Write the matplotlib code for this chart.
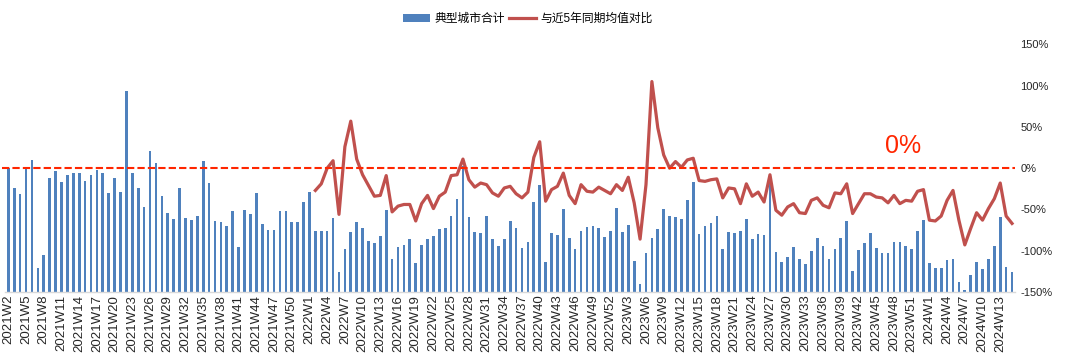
import matplotlib
matplotlib.use('Agg')
import matplotlib.pyplot as plt
import numpy as np

plt.rcParams['font.family'] = ['Liberation Sans', 'Noto Sans CJK SC']

# Week categories: 2021W2 .. 2024W15 (the source has a 2023W53)
week_ranges = [(2021, 2, 52), (2022, 1, 52), (2023, 1, 53), (2024, 1, 15)]
weeks = [f'{y}W{w}' for y, w0, w1 in week_ranges for w in range(w0, w1 + 1)]

# 典型城市合计 (bars, left axis, hidden)
city_total = [
    247, 207, 196, 249, 263, 47, 73, 228, 241, 219,
    233, 237, 238, 221, 233, 243, 237, 197, 228, 199,
    402, 237, 208, 169, 282, 258, 192, 157, 145, 207,
    148, 144, 152, 262, 217, 142, 139, 131, 161, 89,
    164, 156, 197, 135, 123, 124, 161, 161, 140, 140,
    180, 199, 122, 121, 121, 148, 40, 85, 119, 140,
    128, 102, 97, 111, 164, 66, 89, 93, 106, 58,
    93, 106, 112, 125, 128, 151, 186, 252, 150, 120,
    117, 152, 106, 91, 106, 141, 128, 88, 99, 179,
    213, 59, 118, 114, 165, 107, 85, 121, 129, 132,
    127, 109, 121, 167, 119, 133, 62, 15, 77, 107,
    125, 165, 152, 149, 145, 184, 220, 116, 131, 138,
    152, 85, 119, 117, 121, 145, 106, 116, 113, 235,
    79, 60, 69, 89, 66, 56, 81, 107, 92, 65,
    86, 108, 141, 41, 84, 98, 117, 87, 77, 77,
    99, 99, 92, 86, 121, 143, 57, 47, 47, 64,
    65, 20, 4, 33, 59, 45, 65, 92, 149, 50,
    40,
]

# 与近5年同期均值对比 (%, right axis), starts at 2022W2
vs_5yr_avg = [
    -27, -19, 0, 9, -56, 26, 57, 11, -8, -21,
    -34, -33, -9, -53, -46, -44, -44, -64, -43, -33,
    -49, -34, -29, -9, -8, 11, -14, -23, -18, -20,
    -30, -34, -24, -22, -31, -36, -29, 13, 32, -40,
    -26, -22, -6, -33, -43, -20, -28, -29, -23, -27,
    -31, -20, -27, -11, -42, -86, -20, 105, 49, 16,
    0, 8, 1, 10, 12, -15, -16, -14, -13, -36,
    -24, -25, -43, -19, -34, -29, -41, -8, -51, -57,
    -47, -43, -54, -55, -39, -36, -45, -48, -30, -31,
    -19, -55, -43, -31, -31, -35, -36, -42, -33, -43,
    -39, -40, -28, -26, -63, -64, -58, -39, -27, -63,
    -93, -73, -54, -63, -49, -37, -18, -58, -67,
]
line_start = weeks.index('2022W2')

x = np.arange(len(weeks))
line_y = np.full(len(weeks), np.nan)
line_y[line_start:line_start + len(vs_5yr_avg)] = vs_5yr_avg

fig = plt.figure(figsize=(10.8, 3.64), dpi=100)
ax = fig.add_axes([0.005, 0.198, 0.9348, 0.680])
ax2 = ax.twinx()

bars = ax.bar(x, city_total, width=0.45, color='#4F81BD', label='典型城市合计')
ax.set_ylim(0, 494)
ax.set_xlim(-0.5, len(weeks) - 0.5)
ax.set_yticks([])
for s in ['top', 'left', 'right']:
    ax.spines[s].set_visible(False)
ax.spines['bottom'].set_color('#D9D9D9')
ax.spines['bottom'].set_linewidth(1.0)

ax.set_xticks(x[::3])
ax.set_xticklabels(weeks[::3], rotation=90, fontsize=9.5, color='#262626')
ax.tick_params(axis='x', length=0, pad=2)

line, = ax2.plot(x, line_y, color='#C0504D', lw=2.3, solid_joinstyle='round',
                 label='与近5年同期均值对比')
ax2.plot([-1.1, len(weeks) - 0.5], [0, 0], color='#FF2600', lw=1.5,
         linestyle=(0, (3.5, 1.5)), clip_on=False)
ax2.text(151.5, 27, '0%', color='#FF2600', fontsize=18, ha='center', va='center')
ax2.set_ylim(-150, 150)
ax2.set_yticks(np.arange(-150, 151, 50))
ax2.set_yticklabels([f'{v}%' for v in range(-150, 151, 50)], fontsize=8, color='#262626')
ax2.tick_params(axis='y', length=0, pad=4)
for s in ['top', 'left', 'right', 'bottom']:
    ax2.spines[s].set_visible(False)

fig.legend(handles=[bars, line], loc='center', bbox_to_anchor=(0.489, 0.948),
           ncol=2, frameon=False, fontsize=8.5, handlelength=2.3,
           columnspacing=0.3, handletextpad=0.4)

fig.savefig('out.png', dpi=100)
plt.close(fig)
